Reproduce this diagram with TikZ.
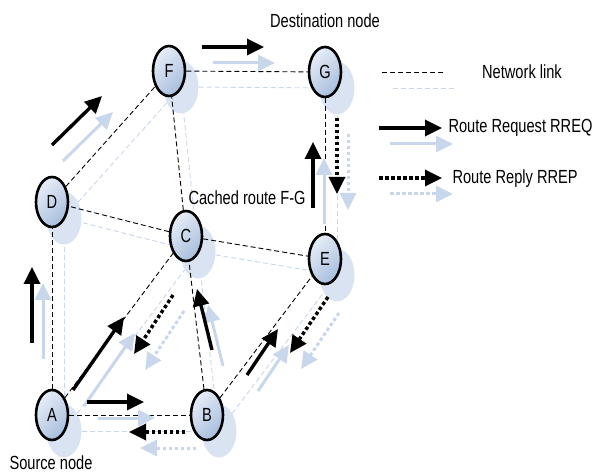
\documentclass[tikz,border=0pt]{standalone}
\usepackage{fontspec}
\setmainfont{Liberation Sans}[FakeStretch=0.77]
\usetikzlibrary{shapes.geometric, arrows.meta}

\definecolor{nodelight}{HTML}{E6EDF7}
\definecolor{nodedark}{HTML}{A8BEDD}
\definecolor{shadowblue}{HTML}{D9E3F2}
\definecolor{linklight}{HTML}{C8D6EB}
\definecolor{flowlight}{HTML}{C9D7EC}

\tikzset{
    net/.style={ellipse, draw, line width=2.6pt, minimum width=32, minimum height=50,
        inner sep=0pt, top color=nodelight, bottom color=nodedark, shading angle=45},
    netshadow/.style={ellipse, fill=shadowblue, minimum width=35, minimum height=53, inner sep=0pt},
    link/.style={dashed, dash pattern=on 5pt off 3pt, line width=0.9pt},
    linkshadow/.style={link, color=linklight},
    reqdark/.style={line width=3.4pt, -{Triangle[length=17pt, width=16pt]}},
    reqlight/.style={reqdark, line width=3pt, color=flowlight},
    repdark/.style={reqdark, dash pattern=on 3.5pt off 2.5pt},
    replight/.style={reqlight, dash pattern=on 3.5pt off 2.5pt},
}

% flow arrows, with their pale copy shifted down right
\newcommand{\rreq}[2]{
    \draw[reqlight] ([shift={(11,16)}]#1) -- ([shift={(11,16)}]#2);
    \draw[reqdark] (#1) -- (#2);
}
\newcommand{\rrep}[2]{
    \draw[replight] ([shift={(11,16)}]#1) -- ([shift={(11,16)}]#2);
    \draw[repdark] (#1) -- (#2);
}

\begin{document}
\begin{tikzpicture}[x=1pt, y=-1pt, font=\fontsize{19}{22}\selectfont]
    \useasboundingbox (0,0) rectangle (595,473);

    % pale copy of the network
    \begin{scope}[shift={(12,16)}]
        \node[netshadow] (sA) at (52,415) {};
        \node[netshadow] (sB) at (207,415) {};
        \node[netshadow] (sC) at (186,236) {};
        \node[netshadow] (sD) at (52,202) {};
        \node[netshadow] (sE) at (325,259) {};
        \node[netshadow] (sF) at (169,71) {};
        \node[netshadow] (sG) at (325,72) {};
    \end{scope}
    \foreach \u/\v in {A/D, A/B, A/C, B/C, B/E, C/D, C/E, C/F, D/F, F/G, G/E}
        \draw[linkshadow] (s\u) -- (s\v);

    % network
    \node[net] (A) at (52,415) {A};
    \node[net] (B) at (207,415) {B};
    \node[net] (C) at (186,236) {C};
    \node[net] (D) at (52,202) {D};
    \node[net] (E) at (325,259) {E};
    \node[net] (F) at (169,71) {F};
    \node[net] (G) at (325,72) {G};
    \foreach \u/\v in {A/D, A/B, A/C, B/C, B/E, C/D, C/E, C/F, D/F, F/G, G/E}
        \draw[link] (\u) -- (\v);

    % route request
    \rreq{32,343}{32,267}
    \rreq{52,145}{102,96}
    \rreq{202,47}{264,47}
    \rreq{73,390}{124,317}
    \rreq{87,402}{144,402}
    \rreq{212,350}{197,289}
    \rreq{247,375}{278,329}
    \rreq{313,208}{313,142}

    % route reply
    \rrep{337,118}{337,194}
    \rrep{328,297}{290,353}
    \rrep{173,295}{134,354}
    \rrep{185,432}{129,432}

    \node (dst) at (325,21) {Destination node};
    \node (src) at (51,463) {Source node};
    \node[anchor=west] (cached) at (185,198) {Cached route F-G};

    % legend
    \draw[linkshadow] (393,88) -- (455,88);
    \draw[link] (382,72) -- (444,72);
    \node (netlbl) at (522,72) {Network link};
    \rreq{379,128}{442,128}
    \node[anchor=west] (reqlbl) at (445,128) {Route Request RREQ};
    \rrep{379,178}{442,178}
    \node[anchor=west] (replbl) at (449,179) {Route Reply RREP};
\end{tikzpicture}
\end{document}
